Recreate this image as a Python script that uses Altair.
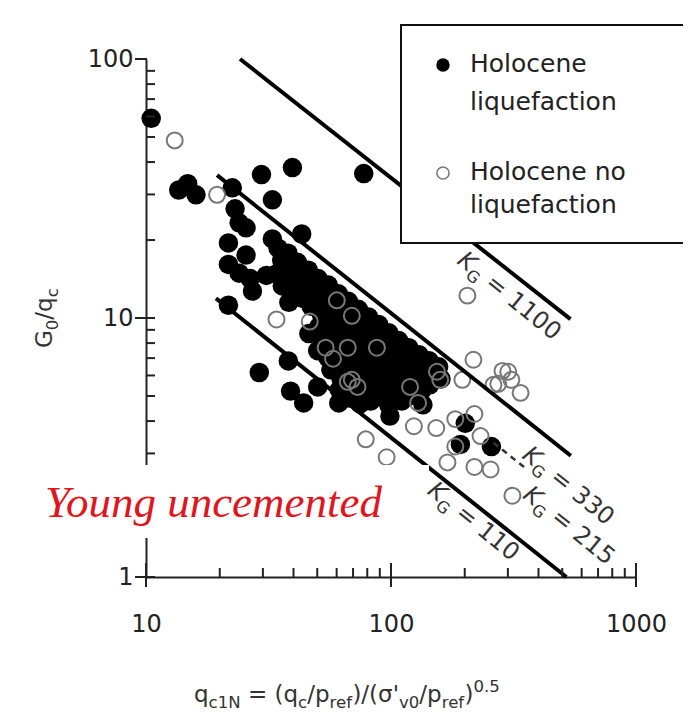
import altair as alt
import pandas as pd

# ---------------- data ----------------
# Holocene liquefaction (filled) - scattered points
liq_x = [10.5, 13.6, 14.8, 16.0, 22.5, 29.6, 39.6, 77.4, 23.1, 24.0, 32.8, 43.2,
         32.8, 25.6, 21.7, 25.6, 26.6, 24.0, 21.7, 27.2, 29.0, 38.1, 38.9, 44.0,
         61.2, 50.2, 99.0, 201, 192, 257, 124, 135, 21.7, 31.0]
liq_y = [59, 31.2, 33.0, 29.9, 31.8, 35.8, 38.1, 36.1, 26.4, 23.3, 28.6, 21.1,
         20.2, 22.3, 16.1, 17.5, 14.2, 14.9, 11.2, 12.7, 6.16, 6.83, 5.22, 4.70,
         4.70, 5.42, 4.18, 3.92, 3.25, 3.19, 5.32, 4.62, 19.5, 14.6]
# Holocene liquefaction (filled) - dense cloud
cloud_x = [34.6, 35.8, 34.4, 36.0,
           38.0, 39.4, 37.6, 39.2, 38.3,
           41.5, 43.4, 42.0, 43.6,
           46.0, 47.6, 45.6, 47.2, 46.2,
           50.4, 52.3, 50.0, 52.0, 50.8, 52.5, 50.2,
           55.5, 57.4, 55.0, 57.0, 55.8, 57.6, 55.2, 56.8,
           61.0, 63.0, 60.5, 62.6, 61.2, 63.2, 60.8, 62.4, 61.5,
           67.0, 69.2, 66.6, 68.8, 67.4, 69.4, 66.8, 68.6, 67.6,
           73.6, 76.0, 73.2, 75.6, 74.0, 76.2, 73.4, 75.4, 74.8,
           81.0, 83.6, 80.5, 83.0, 81.4, 83.8, 80.8, 82.6,
           89.0, 91.8, 88.5, 91.2, 89.4, 92.0, 89.8,
           97.8, 100.8, 97.2, 100.4, 98.4, 101.0, 98.0,
           107.5, 110.8, 107.0, 110.2, 108.2, 110.6,
           118.2, 121.8, 117.6, 121.0, 119.0,
           130.0, 133.6, 129.4, 133.0,
           143.0, 147.0, 144.0,
           156.5, 160.0]
cloud_y = [18.6, 16.7, 14.9, 13.3,
           17.8, 16.0, 14.4, 12.8, 11.5,
           16.4, 14.8, 13.3, 11.9,
           15.3, 13.7, 12.3, 11.1, 8.71,
           14.2, 12.8, 11.5, 10.3, 9.27, 8.33, 7.48,
           13.4, 12.0, 10.8, 9.69, 8.71, 7.82, 7.03, 6.31,
           12.4, 11.2, 10.0, 9.02, 8.10, 7.28, 6.54, 5.87, 5.28,
           11.6, 10.4, 9.35, 8.40, 7.54, 6.78, 6.09, 5.47, 4.91,
           10.8, 9.69, 8.71, 7.82, 7.03, 6.31, 5.67, 5.09, 4.66,
           10.1, 9.10, 8.18, 7.35, 6.60, 5.93, 5.32, 4.78,
           9.44, 8.48, 7.61, 6.84, 6.14, 5.52, 4.96,
           8.78, 7.89, 7.09, 6.37, 5.72, 5.14, 4.61,
           8.18, 7.35, 6.60, 5.93, 5.32, 4.78,
           7.68, 6.90, 6.20, 5.57, 5.00,
           7.22, 6.48, 5.82, 5.23,
           6.84, 6.14, 5.52,
           6.48, 5.82]
# Holocene no liquefaction (open)
noliq_x = [13.1, 19.5, 34.1, 46.6, 60.1, 69.2, 54.1, 66.6, 87.6, 69.2, 73.0, 58.0,
           66.6, 119.6, 129, 205, 217, 158.8, 195.5, 285, 310, 338, 274, 301,
           262, 154, 124, 153, 78.9, 96, 219, 219, 255, 313, 170, 183, 232, 183]
noliq_y = [48.5, 29.9, 9.87, 9.69, 11.7, 10.2, 7.68, 7.68, 7.68, 5.77, 5.42, 6.96,
           5.67, 5.42, 4.70, 12.2, 6.90, 5.77, 5.77, 6.25, 5.77, 5.14, 5.57, 6.20,
           5.52, 6.20, 3.82, 3.76, 3.40, 2.90, 4.26, 2.66, 2.60, 2.06, 2.77, 3.19,
           3.50, 4.07]

# K_G boundary lines (end points)
kline_k = ["1100", "1100", "330", "330", "110", "110"]
kline_x = [24.2, 540, 19.5, 542, 19.3, 520]
kline_y = [100, 9.9, 35.6, 2.94, 11.9, 1.0]
k215_x = [262, 356]
k215_y = [3.30, 2.62]

# K_G labels (anchor on each line)
klabel_k = ["1100", "330", "215", "110"]
klabel_x = [214.8, 410, 396, 158.5]
klabel_y = [19.6, 3.62, 2.42, 2.46]

x_ticks_major = [10, 100, 1000]
x_ticks_minor = [20, 30, 40, 50, 60, 70, 80, 90, 200, 300, 400, 500, 600, 700, 800, 900]
y_ticks_labels = [1, 10, 100]
y_ticks_major = [1, 10]
y_ticks_top = [100]
y_ticks_minor = [2, 3, 4, 5, 6, 7, 8, 9, 20, 30, 40, 50, 60, 70, 80, 90]

legend_lines = ["Holocene", "liquefaction", "Holocene no", "liquefaction"]
annotation = "Young uncemented"

# ---------------- styling / layout ----------------
W, H = 490, 518
SANS = "DejaVu Sans"
INK = "#222222"
XS = alt.Scale(type="log", domain=[10, 1000], nice=False)
YS = alt.Scale(type="log", domain=[1, 100], nice=False)

axis_common = dict(ticks=False, grid=False, title=None, labelFont=SANS, labelFontSize=24,
                   labelColor=INK, labelFlush=False, labelOverlap=False,
                   domainColor=INK, domainWidth=2, format="d")
AX_X = alt.Axis(values=x_ticks_major, labelPadding=35, **axis_common)
AX_Y = alt.Axis(values=y_ticks_labels, labelPadding=13, **axis_common)

EM = {" ": .318, "'": .275, "(": .390, ")": .390, ".": .318, "/": .337, "=": .838,
      "0": .636, "1": .636, "2": .636, "3": .636, "5": .636, "G": .775, "K": .656,
      "N": .748, "c": .550, "e": .615, "f": .352, "p": .635, "q": .635, "r": .411,
      "v": .592, "\u03c3": .635}


def tw(s, size):
    return sum(EM.get(ch, 0.6) for ch in s) * size


def X(field="x"):
    return alt.X(f"{field}:Q", scale=XS, axis=AX_X)


def Y(field="y"):
    return alt.Y(f"{field}:Q", scale=YS, axis=AX_Y)


ONE = pd.DataFrame({"a": [0]})


def rich(segs, size, angle, dy0, color, data=None, xv=None, yv=None):
    """segs: list of (text, scale, shift, style) -> list of text layers"""
    out = []
    dx = 0.0
    for txt, sc, shift, style in segs:
        fs = size * sc
        lead = len(txt) - len(txt.lstrip())
        shown = txt.strip()
        mk = dict(text=shown, fontSize=fs, font=SANS, fontStyle=style, align="left",
                  baseline="alphabetic", angle=angle, dx=dx + tw(txt[:lead], fs),
                  dy=dy0 + shift, color=color)
        if data is not None:
            ch = alt.Chart(data).mark_text(**mk).encode(x=X(), y=Y())
        else:
            ch = alt.Chart(ONE).mark_text(**mk).encode(x=alt.value(xv), y=alt.value(yv))
        out.append(ch)
        dx += tw(txt, fs)
    return out


layers = []

liq = pd.DataFrame({"x": liq_x + cloud_x, "y": liq_y + cloud_y})
layers.append(alt.Chart(liq).mark_circle(size=380, color="black", opacity=1)
              .encode(x=X(), y=Y()))

noliq = pd.DataFrame({"x": noliq_x, "y": noliq_y})
layers.append(alt.Chart(noliq).mark_point(shape="circle", filled=False, color="#777777",
                                          strokeWidth=2, size=255, opacity=1)
              .encode(x=X(), y=Y()))

# K_G lines
klines = pd.DataFrame({"k": kline_k, "x": kline_x, "y": kline_y})
layers.append(alt.Chart(klines).mark_line(color="black", strokeWidth=4)
              .encode(x=X(), y=Y(), detail="k:N"))
k215 = pd.DataFrame({"x": k215_x, "y": k215_y})
layers.append(alt.Chart(k215).mark_line(color="#333333", strokeWidth=2.5, strokeDash=[6, 5])
              .encode(x=X(), y=Y()))

# tick marks
layers.append(alt.Chart(pd.DataFrame({"x": x_ticks_major})).mark_rule(color=INK, strokeWidth=2)
              .encode(x=X(), y=alt.value(H - 14), y2=alt.value(H + 10)))
layers.append(alt.Chart(pd.DataFrame({"x": x_ticks_minor})).mark_rule(color=INK, strokeWidth=2)
              .encode(x=X(), y=alt.value(H - 9), y2=alt.value(H)))
layers.append(alt.Chart(pd.DataFrame({"y": y_ticks_major})).mark_rule(color=INK, strokeWidth=2)
              .encode(y=Y(), x=alt.value(-11), x2=alt.value(9)))
layers.append(alt.Chart(pd.DataFrame({"y": y_ticks_top})).mark_rule(color=INK, strokeWidth=2)
              .encode(y=Y(), x=alt.value(-11), x2=alt.value(1)))
layers.append(alt.Chart(pd.DataFrame({"y": y_ticks_minor})).mark_rule(color=INK, strokeWidth=2)
              .encode(y=Y(), x=alt.value(0), x2=alt.value(9)))

# legend box
layers.append(alt.Chart(ONE).mark_rect(fill="white", stroke="#111111", strokeWidth=2)
              .encode(x=alt.value(255), x2=alt.value(545), y=alt.value(-34), y2=alt.value(184)))
layers.append(alt.Chart(ONE).mark_circle(size=180, color="black", opacity=1)
              .encode(x=alt.value(297), y=alt.value(6)))
layers.append(alt.Chart(ONE).mark_point(shape="circle", filled=False, color="#777777",
                                        strokeWidth=1.5, size=150, opacity=1)
              .encode(x=alt.value(297), y=alt.value(114)))
for txt, by in zip(legend_lines, [13, 51, 121, 154]):
    layers.append(alt.Chart(ONE).mark_text(text=txt, font=SANS, fontSize=25, color=INK,
                                           align="left", baseline="alphabetic")
                  .encode(x=alt.value(324), y=alt.value(by)))

# white annotation box with red italic caption
layers.append(alt.Chart(ONE).mark_rect(fill="white")
              .encode(x=alt.value(-138), x2=alt.value(283), y=alt.value(406), y2=alt.value(479)))
layers.append(alt.Chart(ONE).mark_text(text=annotation, font="Liberation Serif", fontStyle="italic",
                                       fontSize=45, color="#e3141b", align="left",
                                       baseline="alphabetic")
              .encode(x=alt.value(-101), y=alt.value(458)))

# K_G labels along the lines
label_dy = {"1100": 26, "330": 32, "215": 25, "110": 22}
for k, lx, ly in zip(klabel_k, klabel_x, klabel_y):
    d = pd.DataFrame({"x": [lx], "y": [ly]})
    segs = [("K", 1, 0, "italic"), ("G", 0.68, 6, "normal"), (" = " + k, 1, 0, "normal")]
    layers += rich(segs, 24, 39, label_dy[k], "#333333", data=d)

# axis titles (with sub/superscripts)
xt = [("q", 1, 0, "normal"), ("c1N", .72, 6, "normal"), (" = (q", 1, 0, "normal"),
      ("c", .72, 6, "normal"), ("/p", 1, 0, "normal"), ("ref", .72, 6, "normal"),
      (")/(\u03c3'", 1, 0, "normal"), ("v0", .72, 6, "normal"), ("/p", 1, 0, "normal"),
      ("ref", .72, 6, "normal"), (")", 1, 0, "normal"), ("0.5", .72, -10, "normal")]
layers += rich(xt, 23, 0, 0, "#333333", xv=48, yv=643)
yt = [("G", 1, 0, "normal"), ("0", .72, 6, "normal"), ("/q", 1, 0, "normal"),
      ("c", .72, 6, "normal")]
layers += rich(yt, 23, 270, 0, "#333333", xv=-94, yv=289)

chart = alt.layer(*layers).properties(
    width=W, height=H,
    padding={"left": 138, "top": 51, "right": 47, "bottom": 134},
    autosize=alt.AutoSizeParams(type="none"),
    background="white",
).configure_view(stroke=None)

chart.save("out.html", embed_options={"renderer": "svg", "actions": False})
